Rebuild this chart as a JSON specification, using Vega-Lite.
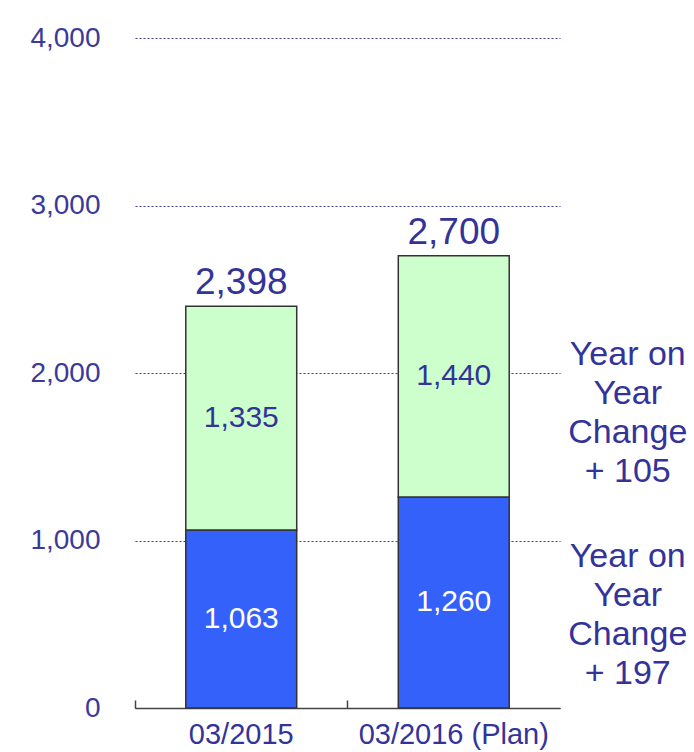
{
  "$schema": "https://vega.github.io/schema/vega-lite/v6.json",
  "width": 425,
  "height": 670,
  "autosize": {"type": "none"},
  "padding": {"left": 135, "top": 38, "right": 134, "bottom": 44},
  "background": "white",
  "config": {"view": {"stroke": null}, "font": "Liberation Sans"},
  "datasets": {
    "bars": [
      {"period": "03/2015", "segment": "base", "value": 1063},
      {"period": "03/2015", "segment": "top", "value": 1335},
      {"period": "03/2016 (Plan)", "segment": "base", "value": 1260},
      {"period": "03/2016 (Plan)", "segment": "top", "value": 1440}
    ],
    "totals": [
      {"period": "03/2015", "total": 2398},
      {"period": "03/2016 (Plan)", "total": 2700}
    ],
    "notes": [
      {"period": "03/2016 (Plan)", "y": 1761, "note": "Year on\nYear\nChange\n+ 105"},
      {"period": "03/2016 (Plan)", "y": 555, "note": "Year on\nYear\nChange\n+ 197"}
    ]
  },
  "resolve": {"axis": {"x": "independent"}},
  "layer": [
    {
      "data": {"name": "bars"},
      "mark": {"type": "bar", "stroke": "#333333", "strokeWidth": 1.5},
      "encoding": {
        "x": {
          "field": "period",
          "type": "nominal",
          "sort": null,
          "scale": {"paddingInner": 0.478, "paddingOuter": 0.239},
          "axis": {
            "orient": "bottom",
            "title": null,
            "labelAngle": 0,
            "labelFontSize": 29,
            "labelLimit": 400,
            "labelColor": "#333399",
            "domainColor": "#444444",
            "domainWidth": 1.5,
            "ticks": false,
            "labelPadding": 12
          }
        },
        "y": {
          "field": "value",
          "type": "quantitative",
          "stack": "zero",
          "scale": {"domain": [0, 4000], "nice": false},
          "axis": {
            "title": null,
            "values": [0, 1000, 2000, 3000, 4000],
            "format": ",.0f",
            "labelFontSize": 28,
            "labelColor": "#3a3a9a",
            "domain": false,
            "ticks": false,
            "labelPadding": 35,
            "grid": true,
            "gridColor": "#4040a0",
            "gridDash": [2, 2],
            "gridWidth": 1.2
          }
        },
        "color": {
          "field": "segment",
          "type": "nominal",
          "scale": {"domain": ["base", "top"], "range": ["#3461F9", "#CCFFCC"]},
          "legend": null
        },
        "order": {"field": "segment"}
      }
    },
    {
      "data": {"name": "bars"},
      "transform": [
        {"stack": "value", "groupby": ["period"], "sort": [{"field": "segment"}], "as": ["v0", "v1"]},
        {"calculate": "(datum.v0 + datum.v1) / 2", "as": "mid"}
      ],
      "mark": {"type": "text", "fontSize": 30, "align": "center", "baseline": "middle"},
      "encoding": {
        "x": {
          "field": "period",
          "type": "nominal",
          "sort": null,
          "axis": {
            "orient": "bottom",
            "offset": 0,
            "title": null,
            "labels": false,
            "domain": false,
            "ticks": true,
            "tickColor": "#444444",
            "tickWidth": 1.5,
            "tickSize": -8,
            "tickOffset": -106.3
          }
        },
        "y": {"field": "mid", "type": "quantitative"},
        "text": {"field": "value", "type": "quantitative", "format": ","},
        "color": {"condition": {"test": "datum.segment === 'base'", "value": "white"}, "value": "#333399"}
      }
    },
    {
      "data": {"name": "totals"},
      "mark": {"type": "text", "fontSize": 37, "align": "center", "baseline": "alphabetic", "dy": -12, "color": "#333399"},
      "encoding": {
        "x": {"field": "period", "type": "nominal", "sort": null, "axis": null},
        "y": {"field": "total", "type": "quantitative"},
        "text": {"field": "total", "type": "quantitative", "format": ","}
      }
    },
    {
      "data": {"name": "notes"},
      "mark": {"type": "text", "fontSize": 34, "lineHeight": 39, "align": "center", "baseline": "middle", "dx": 174, "dy": -58, "lineBreak": "\n", "color": "#333399"},
      "encoding": {
        "x": {"field": "period", "type": "nominal", "sort": null, "axis": null},
        "y": {"field": "y", "type": "quantitative"},
        "text": {"field": "note", "type": "nominal"}
      }
    }
  ]
}
